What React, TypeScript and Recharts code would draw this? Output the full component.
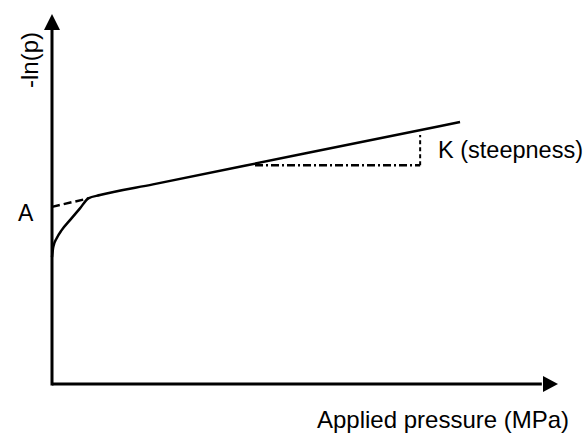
import { LineChart, Line, XAxis, YAxis, ReferenceDot, ReferenceLine } from 'recharts';

// measured curve: -ln(p) vs applied pressure (arbitrary units 0..100)
const curveX = [0, 0.26, 0.93, 1.92, 3.56, 5.54, 7.19, 9.5, 20, 50, 80.8];
const curveY = [34.4, 37.2, 39.5, 41.7, 44.4, 47.6, 50.3, 51.2, 54.1, 62.45, 71.0];

// dashed extrapolation to the intercept A
const extX = [0, 7.19];
const extY = [48.0, 50.3];

// steepness triangle
const runX = [40.2, 72.9];
const runY = [59.3, 59.3];
const riseX = [72.9, 72.9];
const riseY = [59.3, 67.5];

const zip = (xs: number[], ys: number[]) => xs.map((x, i) => ({ x, y: ys[i] }));

const curve = zip(curveX, curveY);
const ext = zip(extX, extY);
const run = zip(runX, runY);
const rise = zip(riseX, riseY);

const FONT = '"Liberation Sans", Arial, sans-serif';

const ArrowRight = ({ cx, cy }: any) => (
  <polygon points={`${cx + 1},${cy} ${cx - 14},${cy - 8} ${cx - 14},${cy + 8}`} fill="#000" />
);
const ArrowUp = ({ cx, cy }: any) => (
  <polygon points={`${cx},${cy - 1} ${cx - 8},${cy + 15} ${cx + 8},${cy + 15}`} fill="#000" />
);

export default function App() {
  return (
    <div style={{ position: 'absolute', left: 0, top: 0, width: 585, height: 435, background: '#fff' }}>
      <LineChart width={585} height={435} margin={{ top: 15, right: 28, left: 52, bottom: 51 }}>
        <XAxis type="number" dataKey="x" domain={[0, 100]} hide />
        <YAxis type="number" dataKey="y" domain={[0, 100]} hide />
        <ReferenceLine
          segment={[{ x: 0, y: 0 }, { x: 97, y: 0 }]}
          stroke="#000"
          strokeWidth={3}
          ifOverflow="visible"
        />
        <ReferenceLine
          segment={[{ x: 0, y: -0.4 }, { x: 0, y: 96 }]}
          stroke="#000"
          strokeWidth={3}
          ifOverflow="visible"
        />
        <Line data={ext} dataKey="y" type="linear" stroke="#000" strokeWidth={2.5} strokeDasharray="8 4" dot={false} isAnimationActive={false} />
        <Line data={curve} dataKey="y" type="monotone" stroke="#000" strokeWidth={2.5} dot={false} isAnimationActive={false} />
        <Line data={run} dataKey="y" type="linear" stroke="#000" strokeWidth={2.5} strokeDasharray="8 3 2 3" dot={false} isAnimationActive={false} />
        <Line data={rise} dataKey="y" type="linear" stroke="#000" strokeWidth={2} strokeDasharray="4 3" dot={false} isAnimationActive={false} />
        <ReferenceDot x={100} y={0} r={0} shape={ArrowRight} ifOverflow="visible" />
        <ReferenceDot x={0} y={100} r={0} shape={ArrowUp} ifOverflow="visible" />
      </LineChart>
      <svg width={585} height={435} style={{ position: 'absolute', left: 0, top: 0, pointerEvents: 'none' }}>
        <g fontFamily={FONT} fill="#000">
          <text x={38} y={60} fontSize={24} textAnchor="middle" transform="rotate(-90 38 60)">-ln(p)</text>
          <text x={18} y={221} fontSize={23}>A</text>
          <text x={438} y={158} fontSize={23.5}>K (steepness)</text>
          <text x={317} y={428} fontSize={24}>Applied pressure (MPa)</text>
        </g>
      </svg>
    </div>
  );
}
